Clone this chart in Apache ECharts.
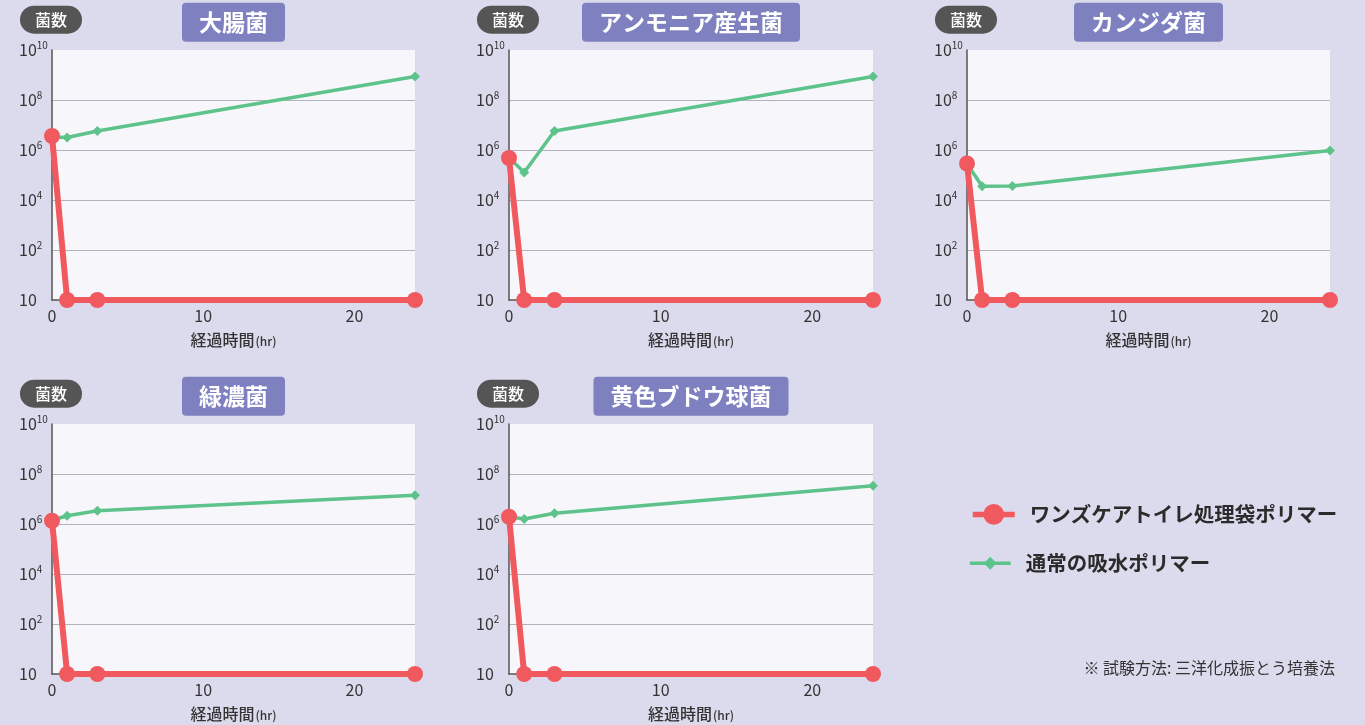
<!DOCTYPE html>
<html>
<head>
<meta charset="utf-8">
<script src="https://cdn.jsdelivr.net/npm/echarts@6/dist/echarts.min.js"></script>
<style>
    html, body { margin: 0; padding: 0; background: #dbdbed; }
    #chart { width: 1365px; height: 725px; }
</style>
</head>
<body>
<div id="chart"></div>
<script>
const FONT = '"Noto Sans CJK JP", "Noto Sans", sans-serif';

// elapsed time (hr)
const hours = [0, 1, 3, 24];
// counts are log10 values (0 = bottom "10" line)
const ecoliBag = [6.56, 0, 0, 0];
const ecoliNormal = [6.52, 6.5, 6.76, 8.94];
const ammoniaBag = [5.68, 0, 0, 0];
const ammoniaNormal = [5.7, 5.1, 6.76, 8.94];
const candidaBag = [5.46, 0, 0, 0];
const candidaNormal = [5.45, 4.55, 4.56, 5.98];
const pseudoBag = [6.13, 0, 0, 0];
const pseudoNormal = [6.15, 6.33, 6.53, 7.15];
const staphBag = [6.29, 0, 0, 0];
const staphNormal = [6.29, 6.2, 6.43, 7.53];

const titles = ['大腸菌', 'アンモニア産生菌', 'カンジダ菌', '緑濃菌', '黄色ブドウ球菌'];
const yTicks = [0, 2, 4, 6, 8, 10];
const xTicks = [0, 10, 20];
const bagName = 'ワンズケアトイレ処理袋ポリマー';
const normalName = '通常の吸水ポリマー';

const panels = [
    { bag: ecoliBag, normal: ecoliNormal },
    { bag: ammoniaBag, normal: ammoniaNormal },
    { bag: candidaBag, normal: candidaNormal },
    { bag: pseudoBag, normal: pseudoNormal },
    { bag: staphBag, normal: staphNormal },
];

// layout of each small chart
const boxes = [
    { left: 52, top: 50, width: 363 },
    { left: 509, top: 50, width: 364 },
    { left: 967, top: 50, width: 363 },
    { left: 52, top: 424, width: 363 },
    { left: 509, top: 424, width: 364 },
];
const PLOT_H = 250;

const RED = '#f05a5f';
const GREEN = '#5ec38b';

let chart = echarts.init(document.getElementById('chart'));

let grid = [];
let xAxis = [];
let yAxis = [];
let series = [];
let graphic = [];

boxes.forEach((b, i) => {
    grid.push({
        left: b.left,
        top: b.top,
        width: b.width,
        height: PLOT_H,
        show: true,
        backgroundColor: '#f6f6fb',
        borderWidth: 0,
    });
    xAxis.push({
        type: 'value',
        gridIndex: i,
        min: xTicks[0],
        max: hours[hours.length - 1],
        interval: xTicks[1] - xTicks[0],
        axisLine: { show: true, lineStyle: { color: '#555', width: 1.5 } },
        axisTick: { show: false },
        splitLine: { show: false },
        axisLabel: {
            margin: 8,
            fontSize: 16,
            color: '#333',
            fontFamily: FONT,
            showMaxLabel: false,
            formatter: (v) => (xTicks.indexOf(v) >= 0 ? String(v) : ''),
        },
        name: '{a|経過時間}{b|(hr)}',
        nameLocation: 'middle',
        nameGap: 32,
        nameTextStyle: {
            rich: {
                a: { fontSize: 16, color: '#333', fontFamily: FONT, fontWeight: 500 },
                b: { fontSize: 12, color: '#333', fontFamily: FONT, fontWeight: 500, padding: [2, 0, 0, 1] },
            },
        },
    });
    yAxis.push({
        type: 'value',
        gridIndex: i,
        min: yTicks[0],
        max: yTicks[yTicks.length - 1],
        interval: yTicks[1] - yTicks[0],
        axisLine: { show: true, lineStyle: { color: '#555', width: 1.5 } },
        axisTick: { show: false },
        splitLine: {
            show: true,
            lineStyle: {
                color: ['transparent', '#b2b2ba', '#b2b2ba', '#b2b2ba', '#b2b2ba', 'transparent'],
                width: 1.2,
            },
        },
        axisLabel: {
            margin: 33,
            align: 'left',
            formatter: (v) => (v === 0 ? '{b|10}' : '{b|10}{s|' + v + '}'),
            rich: {
                b: { fontSize: 16, color: '#333', fontFamily: FONT },
                s: { fontSize: 10, color: '#333', fontFamily: FONT, padding: [0, 0, 9, 0] },
            },
        },
    });

    let p = panels[i];
    series.push({
        type: 'line',
        name: normalName,
        xAxisIndex: i,
        yAxisIndex: i,
        data: hours.map((h, k) => [h, p.normal[k]]),
        symbol: 'diamond',
        symbolSize: 10,
        clip: false,
        z: 2,
        itemStyle: { color: GREEN },
        lineStyle: { color: GREEN, width: 3.5 },
    });
    series.push({
        type: 'line',
        name: bagName,
        xAxisIndex: i,
        yAxisIndex: i,
        data: hours.map((h, k) => [h, p.bag[k]]),
        symbol: 'circle',
        symbolSize: 16,
        clip: false,
        z: 3,
        itemStyle: { color: RED },
        lineStyle: { color: RED, width: 6 },
    });

    // panel title box
    graphic.push({
        type: 'text',
        x: b.left + b.width / 2,
        y: b.top - 47.3,
        z: 10,
        style: {
            text: titles[i],
            align: 'center',
            textAlign: 'center',
            verticalAlign: 'top',
            textVerticalAlign: 'top',
            fill: '#fff',
            font: 'bold 23px ' + FONT,
            lineHeight: 25,
            backgroundColor: '#7e80bf',
            padding: [7, 17],
            borderRadius: 4,
        },
    });
    // "菌数" pill
    graphic.push({
        type: 'text',
        x: b.left - 1,
        y: b.top - 44.3,
        z: 10,
        style: {
            text: '菌数',
            align: 'center',
            textAlign: 'center',
            verticalAlign: 'top',
            textVerticalAlign: 'top',
            fill: '#fff',
            font: '500 16px ' + FONT,
            lineHeight: 18,
            backgroundColor: '#555555',
            padding: [5, 15],
            borderRadius: 14,
        },
    });
});

graphic.push({
    type: 'text',
    x: 1335,
    y: 668,
    style: {
        text: '※ 試験方法: 三洋化成振とう培養法',
        align: 'right',
        textAlign: 'right',
        verticalAlign: 'middle',
        textVerticalAlign: 'middle',
        fill: '#333',
        font: '16px ' + FONT,
    },
});

let legendText = {
    fontSize: 20.5,
    fontWeight: 'bold',
    color: '#2b2b2b',
    fontFamily: FONT,
    padding: [0, 0, 0, 10],
};

let option = {
    backgroundColor: '#dbdbed',
    animation: false,
    grid: grid,
    xAxis: xAxis,
    yAxis: yAxis,
    legend: [
        {
            data: [bagName],
            left: 970,
            top: 504,
            padding: 0,
            itemWidth: 42,
            itemHeight: 26,
            selectedMode: false,
            lineStyle: { width: 5.5 },
            textStyle: legendText,
        },
        {
            data: [normalName],
            left: 968,
            top: 553,
            padding: 0,
            itemWidth: 41,
            itemHeight: 16,
            selectedMode: false,
            lineStyle: { width: 3.5 },
            textStyle: legendText,
        },
    ],
    graphic: graphic,
    series: series,
};

chart.setOption(option);
</script>
</body>
</html>
